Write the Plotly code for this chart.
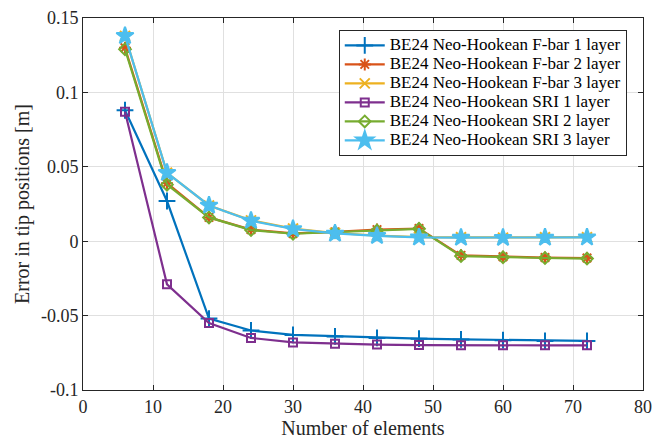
import plotly.graph_objects as go

elements = [6, 12, 18, 24, 30, 36, 42, 48, 54, 60, 66, 72]

fbar_1 = [0.088, 0.027, -0.052, -0.060, -0.063, -0.064, -0.065, -0.0655, -0.066, -0.0665, -0.067, -0.067]
fbar_2 = [0.130, 0.039, 0.016, 0.0078, 0.0052, 0.0062, 0.0078, 0.0085, -0.0095, -0.0105, -0.011, -0.0113]
fbar_3 = [0.138, 0.046, 0.024, 0.0140, 0.0085, 0.0055, 0.0038, 0.0028, 0.0026, 0.0024, 0.0026, 0.0027]
sri_1 = [0.087, -0.029, -0.055, -0.065, -0.068, -0.069, -0.0695, -0.0698, -0.0700, -0.0700, -0.0700, -0.0700]
sri_2 = [0.129, 0.038, 0.016, 0.0075, 0.0050, 0.0060, 0.0072, 0.0083, -0.0100, -0.0108, -0.0113, -0.0117]
sri_3 = [0.138, 0.046, 0.024, 0.0138, 0.0082, 0.0052, 0.0036, 0.0026, 0.0024, 0.0023, 0.0025, 0.0026]

names = [
    "BE24 Neo-Hookean F-bar 1 layer",
    "BE24 Neo-Hookean F-bar 2 layer",
    "BE24 Neo-Hookean F-bar 3 layer",
    "BE24 Neo-Hookean SRI 1 layer",
    "BE24 Neo-Hookean SRI 2 layer",
    "BE24 Neo-Hookean SRI 3 layer",
]
series = [fbar_1, fbar_2, fbar_3, sri_1, sri_2, sri_3]
colors = ["#0072BD", "#D95319", "#EDB120", "#7E2F8E", "#77AC30", "#4DBEEE"]
symbols = ["cross-thin-open", "asterisk-open", "x-thin-open", "square-open", "diamond-open", "star"]
sizes = [12, 10, 10, 8, 9, 13]

yticks = [-0.1, -0.05, 0, 0.05, 0.1, 0.15]
yticktext = ["-0.1", "-0.05", "0", "0.05", "0.1", "0.15"]
xticks = [0, 10, 20, 30, 40, 50, 60, 70, 80]

fig = go.Figure()
for name, ys, c, s, sz in zip(names, series, colors, symbols, sizes):
    fig.add_trace(go.Scatter(
        x=elements, y=ys, name='<span style="font-size:17px">' + name + '</span>',
        mode="lines+markers",
        line=dict(color=c, width=2.2),
        marker=dict(symbol=s, size=sz, color=c, line=dict(color=c, width=2)),
    ))

font = "Liberation Serif"
fig.update_layout(
    width=654, height=432,
    margin=dict(l=75, r=19, t=10, b=50, autoexpand=False),
    plot_bgcolor="white", paper_bgcolor="white",
    font=dict(family=font, size=18, color="#262626"),
    legend=dict(
        x=0.971, y=0.968, xanchor="right", yanchor="top",
        bgcolor="white", bordercolor="#262626", borderwidth=1,
        font=dict(family=font, size=12, color="black"),
        tracegroupgap=0, itemwidth=40,
    ),
    xaxis=dict(
        range=[0, 80], tickvals=xticks, showgrid=True, gridcolor="#E0E0E0", gridwidth=1,
        ticks="inside", ticklen=5, tickcolor="#262626", mirror="ticks",
        showline=True, linecolor="#262626", linewidth=1, zeroline=False,
        title=dict(text="Number of elements", font=dict(family=font, size=20), standoff=1),
        tickfont=dict(family=font, size=18), ticklabeloverflow="allow", automargin=False,
    ),
    yaxis=dict(
        range=[-0.1, 0.15], tickvals=yticks, ticktext=yticktext, showgrid=True,
        gridcolor="#E0E0E0", gridwidth=1,
        ticks="inside", ticklen=5, tickcolor="#262626", mirror="ticks",
        showline=True, linecolor="#262626", linewidth=1, zeroline=False,
        title=dict(text="Error in tip positions [m]", font=dict(family=font, size=20), standoff=5),
        tickfont=dict(family=font, size=18), ticklabeloverflow="allow", automargin=False,
    ),
)

fig.write_html("out.html")
